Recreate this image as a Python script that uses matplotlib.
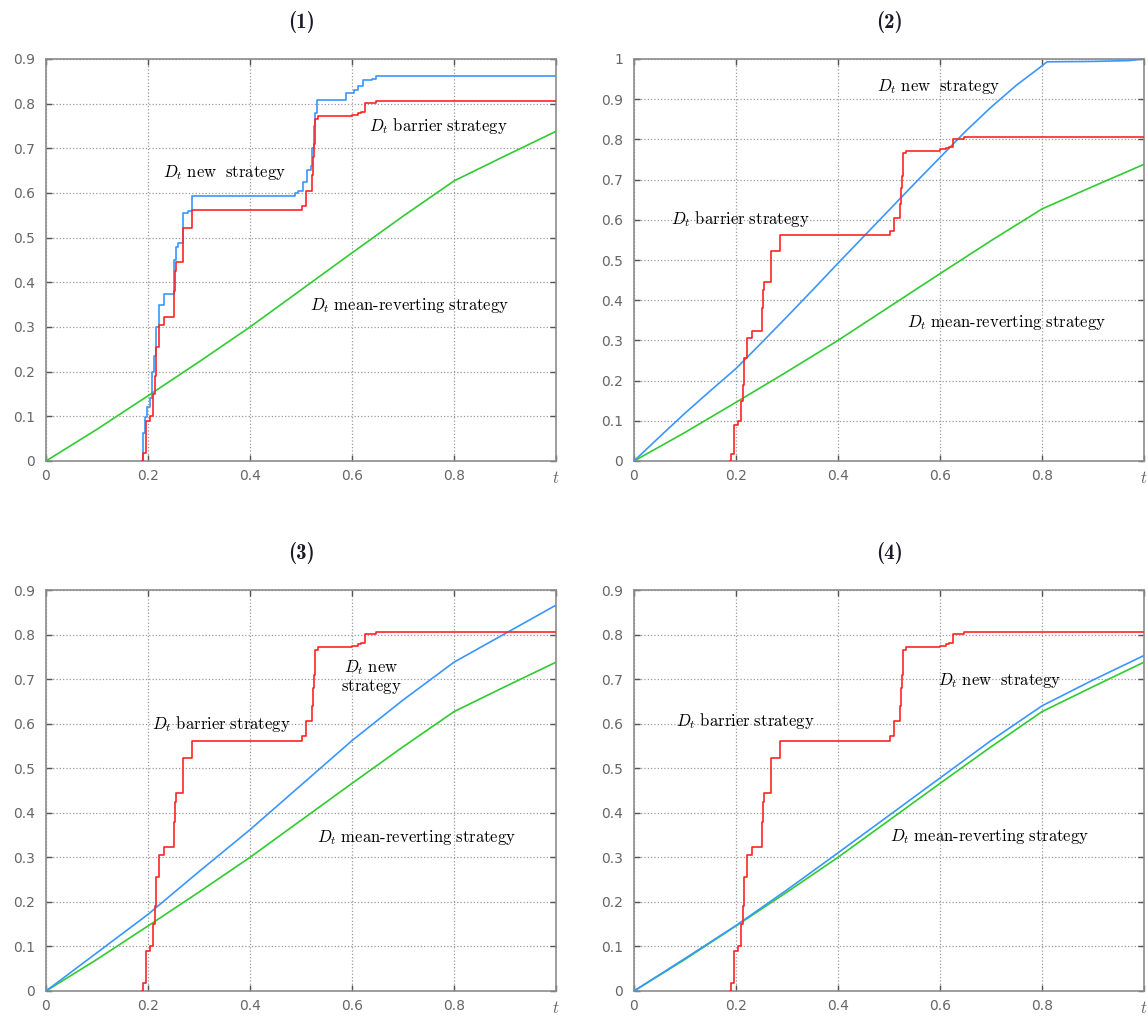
import numpy as np
import matplotlib
matplotlib.use("Agg")
import matplotlib.pyplot as plt

plt.rcParams['mathtext.fontset'] = 'cm'

# mean-reverting strategy (same in all panels)
t_green = [0.0, 0.1, 0.2, 0.3, 0.4, 0.5, 0.6, 0.7, 0.8, 0.9, 1.0]
d_green = [0.0, 0.071, 0.146, 0.222, 0.300, 0.383, 0.466, 0.548, 0.627, 0.683, 0.738]

# barrier strategy, step function (same in all panels)
t_red = [0.189, 0.190, 0.197, 0.203, 0.209, 0.213, 0.216, 0.221, 0.232, 0.250, 0.252,
         0.254, 0.268, 0.286, 0.502, 0.509, 0.522, 0.524, 0.526, 0.528, 0.533, 0.600,
         0.612, 0.618, 0.626, 0.648, 1.0]
d_red = [0.0, 0.017, 0.09, 0.10, 0.15, 0.19, 0.255, 0.305, 0.323, 0.38, 0.425,
         0.445, 0.522, 0.562, 0.572, 0.605, 0.64, 0.68, 0.71, 0.765, 0.772, 0.775,
         0.778, 0.782, 0.802, 0.805, 0.805]

# new strategy, panel 1 (step function)
t_blue1 = [0.188, 0.190, 0.194, 0.199, 0.204, 0.208, 0.212, 0.215, 0.222, 0.231, 0.250,
           0.254, 0.259, 0.268, 0.279, 0.287, 0.488, 0.495, 0.503, 0.512, 0.519, 0.522,
           0.525, 0.528, 0.531, 0.589, 0.603, 0.611, 0.622, 0.639, 0.648, 1.0]
d_blue1 = [0.0, 0.062, 0.099, 0.12, 0.14, 0.2, 0.235, 0.30, 0.349, 0.375, 0.45,
           0.48, 0.487, 0.555, 0.56, 0.593, 0.60, 0.605, 0.625, 0.651, 0.66, 0.70,
           0.75, 0.78, 0.808, 0.823, 0.83, 0.84, 0.853, 0.855, 0.861, 0.861]

# new strategy, panels 2-4
t_blue2 = [0.0, 0.05, 0.1, 0.15, 0.2, 0.25, 0.3, 0.35, 0.4, 0.45, 0.5, 0.55, 0.6,
           0.65, 0.7, 0.75, 0.8, 0.81, 0.9, 0.97, 1.0]
d_blue2 = [0.0, 0.06, 0.119, 0.175, 0.230, 0.294, 0.359, 0.425, 0.492, 0.558, 0.624,
           0.690, 0.755, 0.82, 0.880, 0.935, 0.983, 0.993, 0.994, 0.996, 1.0]

t_blue3 = [0.0, 0.1, 0.2, 0.3, 0.4, 0.5, 0.6, 0.7, 0.8, 0.9, 1.0]
d_blue3 = [0.0, 0.086, 0.172, 0.268, 0.362, 0.462, 0.562, 0.653, 0.738, 0.802, 0.866]

t_blue4 = [0.0, 0.1, 0.2, 0.3, 0.4, 0.5, 0.6, 0.7, 0.8, 0.9, 1.0]
d_blue4 = [0.0, 0.073, 0.147, 0.227, 0.310, 0.394, 0.478, 0.562, 0.640, 0.698, 0.753]

titles = ["(1)", "(2)", "(3)", "(4)"]
xtick_labels = ["0", "0.2", "0.4", "0.6", "0.8", "$t$"]

# label positions (t, D) per panel: new, barrier, mean-reverting
lbl_new = [(0.23, 0.645), (0.476, 0.932), (0.637, 0.705), (0.597, 0.698)]
lbl_bar = [(0.633, 0.751), (0.073, 0.602), (0.208, 0.599), (0.083, 0.605)]
lbl_mr = [(0.517, 0.348), (0.535, 0.344), (0.532, 0.344), (0.501, 0.346)]

RED = '#ff2424'
BLUE = '#3a96ff'
GREEN = '#2fcc2f'
FRAME = '#8c8c8c'

fig = plt.figure(figsize=(11.48, 10.19), dpi=100)
W, H = 1148, 1019
boxes = [(46, 59, 461), (634, 59, 461), (46, 590, 991), (634, 590, 991)]

blues = [(t_blue1, d_blue1, 'steps-post'), (t_blue2, d_blue2, 'default'),
         (t_blue3, d_blue3, 'default'), (t_blue4, d_blue4, 'default')]

for i in range(4):
    x0, ytop, ybot = boxes[i]
    ax = fig.add_axes([x0 / W, (H - ybot) / H, 510 / W, (ybot - ytop) / H])
    ymax = 1.0 if i == 1 else 0.9

    ax.plot(t_green, d_green, color=GREEN, lw=1.2, zorder=3)
    tb, db, ds = blues[i]
    ax.plot(tb, db, color=BLUE, lw=1.2, drawstyle=ds, zorder=4)
    ax.plot(t_red, d_red, color=RED, lw=1.2, drawstyle='steps-post', zorder=5)

    ax.set_xlim(0, 1)
    ax.set_ylim(0, ymax)
    ax.set_xticks([0, 0.2, 0.4, 0.6, 0.8, 1.0])
    yt = np.round(np.arange(0, ymax + 0.001, 0.1), 1)
    ax.set_yticks(yt)

    ax.grid(True, linestyle=':', color='#9a9a9a', linewidth=0.9)
    ax.tick_params(direction='in', length=4, width=1, color='#555555',
                   top=True, right=True, labelsize=10, labelcolor='#666666', pad=8)
    ax.tick_params(axis='x', pad=6)
    ax.set_xticklabels(xtick_labels)
    ax.set_yticklabels(["0" if v == 0 else ("1" if v == 1 else f"{v:.1f}") for v in yt])
    ax.get_xticklabels()[-1].set_fontsize(12)
    for s in ax.spines.values():
        s.set_color(FRAME)
        s.set_linewidth(1.2)

    ax.set_title(titles[i], fontsize=15, color='#1a1a2a', pad=22, family='cmb10')

    tx, ty = lbl_new[i]
    if i == 2:
        ax.text(tx, ty, "$D_t\\ \\mathrm{new}$\n$\\mathrm{strategy}$", fontsize=12,
                ha='center', va='center', linespacing=1.0, zorder=6)
    else:
        ax.text(tx, ty, r"$D_t\ \mathrm{new\ \ strategy}$", fontsize=12,
                ha='left', va='center', zorder=6)
    tx, ty = lbl_bar[i]
    ax.text(tx, ty, r"$D_t\ \mathrm{barrier\ strategy}$", fontsize=12,
            ha='left', va='center', zorder=6)
    tx, ty = lbl_mr[i]
    ax.text(tx, ty, r"$D_t\ \mathrm{mean\text{-}reverting\ strategy}$", fontsize=12,
            ha='left', va='center', zorder=6)

fig.savefig("out.png", dpi=100)
